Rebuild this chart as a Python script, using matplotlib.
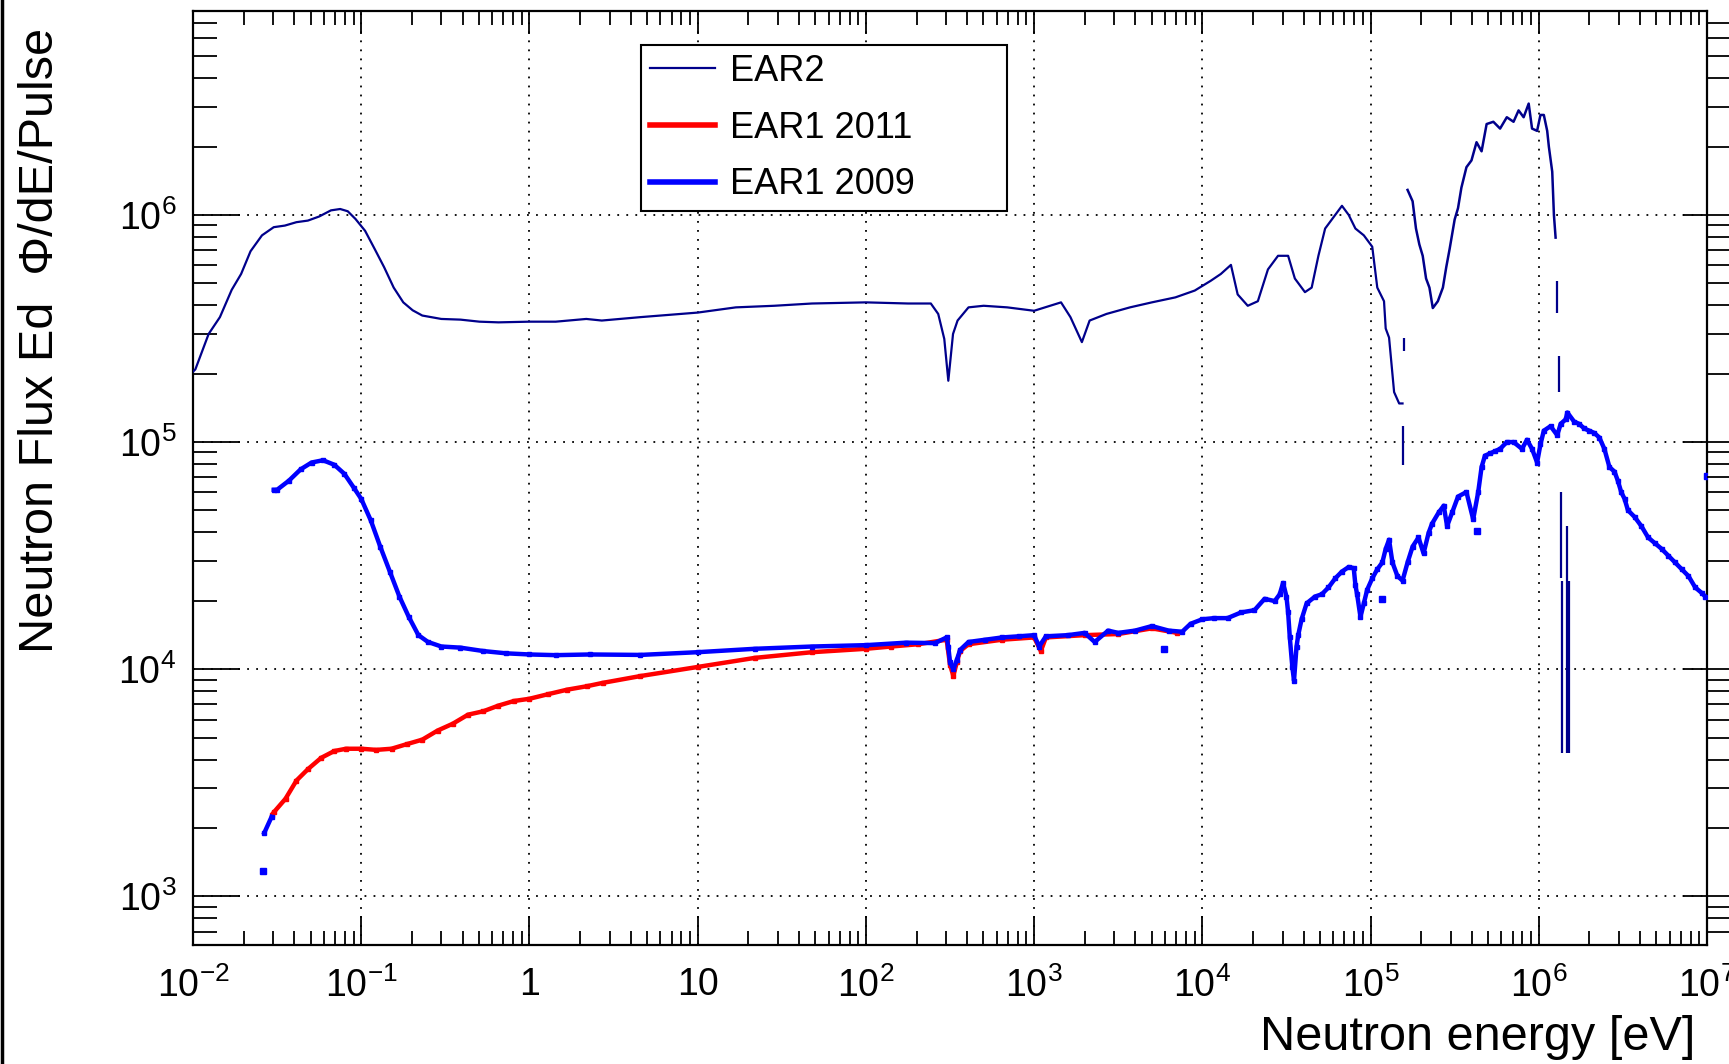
import numpy as np
import matplotlib
matplotlib.use('Agg')
import matplotlib.pyplot as plt
from matplotlib.ticker import LogLocator, FuncFormatter, NullFormatter
from matplotlib.lines import Line2D

plt.rcParams['font.family'] = ['Liberation Sans', 'DejaVu Sans']
plt.rcParams['mathtext.fontset'] = 'custom'
plt.rcParams['mathtext.rm'] = 'Liberation Sans'
plt.rcParams['mathtext.it'] = 'Liberation Sans:italic'
plt.rcParams['mathtext.default'] = 'regular'

# ---------------- data (log10 of energy [eV] and log10 of flux) ----------
ear2_log_e = [-2.0, -1.986, -1.907, -1.84, -1.77, -1.714, -1.658, -1.59, -1.52, -1.454, -1.385,
              -1.317, -1.25, -1.18, -1.125, -1.08, -1.034, -0.977, -0.92, -0.864, -0.807, -0.75,
              -0.694, -0.637, -0.524, -0.41, -0.297, -0.184, 0.0, 0.156, 0.338, 0.43, 0.66, 1.0,
              1.227, 1.455, 1.68, 2.0, 2.25, 2.386, 2.43, 2.466, 2.49, 2.518, 2.545, 2.61, 2.70,
              2.84, 3.0, 3.16, 3.216, 3.284, 3.33, 3.43, 3.57, 3.70, 3.84, 3.955, 4.05, 4.11, 4.17,
              4.21, 4.27, 4.33, 4.39, 4.45, 4.51, 4.55, 4.61, 4.65, 4.69, 4.73, 4.79, 4.83, 4.87,
              4.91, 4.96, 5.01, 5.04, 5.08, 5.09, 5.11, 5.14, 5.17, 5.19]
ear2_log_f = [5.31, 5.32, 5.476, 5.55, 5.67, 5.74, 5.84, 5.91, 5.946, 5.953, 5.968,
              5.975, 5.993, 6.02, 6.026, 6.016, 5.982, 5.93, 5.85, 5.77, 5.68, 5.615,
              5.58, 5.557, 5.542, 5.539, 5.53, 5.527, 5.53, 5.53, 5.542, 5.535, 5.55, 5.57,
              5.593, 5.60, 5.61, 5.615, 5.61, 5.61, 5.564, 5.454, 5.27, 5.476, 5.535, 5.593, 5.60,
              5.593, 5.578, 5.615, 5.55, 5.44, 5.535, 5.564, 5.593, 5.615, 5.637, 5.667, 5.71, 5.74,
              5.78, 5.65, 5.60, 5.62, 5.76, 5.82, 5.82, 5.72, 5.66, 5.68, 5.82, 5.94, 6.0, 6.04,
              6.0, 5.94, 5.91, 5.86, 5.68, 5.62, 5.50, 5.46, 5.22, 5.17, 5.17]

ear2_hi_log_e = [5.22, 5.25, 5.27, 5.29, 5.31, 5.33, 5.35, 5.37, 5.40, 5.43, 5.45, 5.47, 5.50,
                 5.52, 5.54, 5.57, 5.60, 5.63, 5.66, 5.69, 5.73, 5.77, 5.81, 5.85, 5.88, 5.91,
                 5.94, 5.96, 5.99, 6.01, 6.03, 6.05, 6.06, 6.08, 6.09, 6.10]
ear2_hi_log_f = [6.11, 6.06, 5.94, 5.87, 5.82, 5.72, 5.68, 5.59, 5.62, 5.68, 5.77, 5.85, 5.98,
                 6.03, 6.12, 6.21, 6.24, 6.32, 6.28, 6.40, 6.41, 6.38, 6.43, 6.41, 6.46, 6.43,
                 6.49, 6.38, 6.37, 6.44, 6.44, 6.37, 6.30, 6.19, 6.0, 5.90]

# isolated EAR2 bins with error bars: log E, log flux, log low edge, log high edge
ear2_iso_log_e = [5.19, 5.20, 6.11, 6.12, 6.13, 6.14, 6.17, 6.18]
ear2_iso_log_f = [4.98, 5.43, 5.64, 5.30, 4.63, 4.16, 4.46, 4.16]
ear2_iso_log_lo = [4.90, 5.40, 5.57, 5.22, 4.40, 3.63, 3.63, 3.63]
ear2_iso_log_hi = [5.07, 5.46, 5.71, 5.38, 4.78, 4.39, 4.63, 4.39]

ear1_2009_low_log_e = [-1.576, -1.533]
ear1_2009_low_log_f = [3.28, 3.35]
ear1_2009_lone_log_e = [-1.585, 3.77, 5.07, 5.63, 7.0]
ear1_2009_lone_log_f = [3.11, 4.09, 4.31, 4.61, 4.85]

ear1_2009_log_e = [-1.52, -1.50, -1.43, -1.36, -1.295, -1.227, -1.16, -1.10, -1.045, -1.0, -0.943,
                   -0.887, -0.83, -0.773, -0.717, -0.66, -0.603, -0.524, -0.41, -0.274, -0.138,
                   0.0, 0.156, 0.36, 0.66, 1.0, 1.34, 1.68, 2.0, 2.24, 2.41, 2.48, 2.49, 2.50, 2.52,
                   2.54, 2.56, 2.61, 2.71, 2.81, 2.91, 3.0, 3.03, 3.07, 3.20, 3.30, 3.36, 3.44, 3.50,
                   3.60, 3.70, 3.80, 3.88, 3.93, 4.0, 4.07, 4.15, 4.23, 4.31, 4.37, 4.43, 4.46, 4.48,
                   4.50, 4.51, 4.52, 4.535, 4.545, 4.56, 4.57, 4.59, 4.62, 4.67, 4.71, 4.75, 4.79,
                   4.83, 4.87, 4.90, 4.91, 4.92, 4.94, 4.96, 4.98, 5.01, 5.04, 5.07, 5.09, 5.11,
                   5.13, 5.16, 5.19, 5.22, 5.25, 5.285, 5.315, 5.345, 5.365, 5.405, 5.435, 5.455,
                   5.485, 5.52, 5.57, 5.61, 5.64, 5.66, 5.68, 5.71, 5.74, 5.77, 5.81, 5.85, 5.90,
                   5.93, 5.96, 5.99, 6.01, 6.03, 6.07, 6.11, 6.13, 6.16, 6.17, 6.21, 6.24, 6.27,
                   6.30, 6.33, 6.36, 6.39, 6.42, 6.45, 6.47, 6.49, 6.51, 6.53, 6.57, 6.61, 6.65,
                   6.69, 6.73, 6.77, 6.81, 6.85, 6.89, 6.93, 6.97, 6.99]
ear1_2009_log_f = [4.79, 4.79, 4.83, 4.88, 4.91, 4.92, 4.90, 4.86, 4.80, 4.75, 4.655,
                   4.54, 4.43, 4.32, 4.23, 4.15, 4.12, 4.10, 4.095, 4.08, 4.07,
                   4.065, 4.062, 4.065, 4.063, 4.075, 4.09, 4.10, 4.106, 4.117, 4.115, 4.14, 4.10,
                   4.03, 4.0, 4.04, 4.085, 4.12, 4.13, 4.14, 4.145, 4.15, 4.10, 4.145, 4.15, 4.16,
                   4.12, 4.17, 4.16, 4.17, 4.19, 4.17, 4.165, 4.20, 4.22, 4.225, 4.225, 4.25, 4.26,
                   4.31, 4.30, 4.33, 4.38, 4.32, 4.25, 4.14, 4.01, 3.95, 4.10, 4.15, 4.22, 4.29,
                   4.32, 4.33, 4.36, 4.40, 4.43, 4.45, 4.445, 4.37, 4.33, 4.23, 4.29, 4.35, 4.40,
                   4.44, 4.47, 4.53, 4.57, 4.47, 4.41, 4.39, 4.47, 4.54, 4.58, 4.51, 4.60, 4.64,
                   4.69, 4.72, 4.63, 4.69, 4.76, 4.78, 4.66, 4.78, 4.89, 4.94, 4.95, 4.96, 4.97,
                   5.0, 5.0, 4.97, 5.01, 4.97, 4.91, 4.99, 5.05, 5.07, 5.03, 5.08, 5.10, 5.13,
                   5.09, 5.08, 5.06, 5.05, 5.04, 5.02, 4.97, 4.89, 4.87, 4.83, 4.78, 4.75, 4.70,
                   4.67, 4.63, 4.58, 4.555, 4.53, 4.50, 4.47, 4.44, 4.41, 4.36, 4.335, 4.32]

ear1_2011_log_e = [-1.53, -1.52, -1.45, -1.385, -1.317, -1.238, -1.16, -1.09, -1.0, -0.91, -0.82,
                   -0.73, -0.637, -0.546, -0.456, -0.365, -0.274, -0.184, -0.093, 0.0, 0.11, 0.224,
                   0.34, 0.436, 0.66, 1.0, 1.34, 1.68, 2.0, 2.15, 2.31, 2.48, 2.50, 2.52, 2.54, 2.56,
                   2.61, 2.81, 3.0, 3.04, 3.07, 3.30, 3.50, 3.70, 3.85]
ear1_2011_log_f = [3.36, 3.37, 3.43, 3.51, 3.56, 3.61, 3.64, 3.65, 3.65, 3.645, 3.65,
                   3.67, 3.69, 3.73, 3.76, 3.80, 3.815, 3.84, 3.86, 3.87, 3.89, 3.91,
                   3.925, 3.94, 3.97, 4.01, 4.05, 4.075, 4.09, 4.10, 4.11, 4.13, 4.02, 3.97, 4.03,
                   4.08, 4.11, 4.13, 4.14, 4.08, 4.14, 4.15, 4.155, 4.18, 4.16]

legend_labels = ['EAR2', 'EAR1 2011', 'EAR1 2009']
x_label = 'Neutron energy [eV]'
y_label = 'Neutron Flux Ed  \u03a6/dE/Pulse'

NAVY = '#00008b'
BLUE = '#0000ff'
RED = '#ff0000'

def p(v):
    return np.power(10.0, np.asarray(v, dtype=float))

# ---------------- figure ----------------
W, H = 1729, 1064
fig = plt.figure(figsize=(W / 100, H / 100), dpi=100)
ax = fig.add_axes([193 / W, 1 - 945 / H, 1514 / W, 934 / H])
ax.set_xscale('log')
ax.set_yscale('log')
XLIM = (1e-2, 1e7)
YLIM = (611, 7.9e6)
ax.set_xlim(*XLIM)
ax.set_ylim(*YLIM)

# series
ax.plot(p(ear1_2011_log_e), p(ear1_2011_log_f), color=RED, lw=3.2, marker='s', ms=3,
        solid_capstyle='butt', zorder=3)
ax.plot(p(ear1_2009_low_log_e), p(ear1_2009_low_log_f), color=BLUE, lw=3.2, marker='s', ms=3, zorder=4)
ax.plot(p(ear1_2009_log_e), p(ear1_2009_log_f), color=BLUE, lw=3.2, marker='s', ms=3.5, zorder=4)
ax.plot(p(ear1_2009_lone_log_e), p(ear1_2009_lone_log_f), color=BLUE, lw=0, marker='s', ms=4.5, zorder=4)

ax.plot(p(ear2_log_e), p(ear2_log_f), color=NAVY, lw=1.6, zorder=5)
ax.plot(p(ear2_hi_log_e), p(ear2_hi_log_f), color=NAVY, lw=1.8, zorder=5)
iso_e = p(ear2_iso_log_e)
iso_f = p(ear2_iso_log_f)
ax.errorbar(iso_e, iso_f, yerr=[iso_f - p(ear2_iso_log_lo), p(ear2_iso_log_hi) - iso_f],
            fmt='none', ecolor=NAVY, elinewidth=1.6, capsize=0, zorder=5)

# grid
ax.grid(True, which='major', color='black', linestyle=(0, (1, 4)), linewidth=1.3)

# tick formatting
def fmt(v, pos):
    e = int(round(np.log10(v)))
    if e == 0:
        return '1'
    if e == 1:
        return '10'
    return r'$10^{%d}$' % e

for axis in (ax.xaxis, ax.yaxis):
    axis.set_major_locator(LogLocator(base=10, numticks=30))
    axis.set_minor_locator(LogLocator(base=10, subs=np.arange(2, 10), numticks=30))
    axis.set_minor_formatter(NullFormatter())
ax.xaxis.set_major_formatter(FuncFormatter(fmt))
ax.yaxis.set_major_formatter(FuncFormatter(fmt))

ax.tick_params(axis='x', which='major', direction='in', length=21, width=1.3, labelsize=27, pad=16,
               top=False)
ax.tick_params(axis='x', which='minor', direction='in', length=10, width=1.3, top=False)
ax.tick_params(axis='y', which='major', direction='in', length=34, width=1.3, labelsize=27, pad=12,
               right=False)
ax.tick_params(axis='y', which='minor', direction='in', length=17, width=1.3, right=False)
for s in ax.spines.values():
    s.set_linewidth(1.6)

# top axis ticks
axT = ax.twiny()
axT.set_xscale('log')
axT.set_xlim(*XLIM)
axT.xaxis.set_major_locator(LogLocator(base=10, numticks=30))
axT.xaxis.set_minor_locator(LogLocator(base=10, subs=np.arange(2, 10), numticks=30))
axT.xaxis.set_major_formatter(NullFormatter())
axT.xaxis.set_minor_formatter(NullFormatter())
axT.tick_params(axis='x', which='major', direction='in', length=16.5, width=1.3, top=True,
                bottom=False, labeltop=False, labelbottom=False)
axT.tick_params(axis='x', which='minor', direction='in', length=10, width=1.3, top=True,
                bottom=False)

# right axis ticks
axR = ax.twinx()
axR.set_yscale('log')
axR.set_ylim(*YLIM)
axR.yaxis.set_major_locator(LogLocator(base=10, numticks=30))
axR.yaxis.set_minor_locator(LogLocator(base=10, subs=np.arange(2, 10), numticks=30))
axR.yaxis.set_major_formatter(NullFormatter())
axR.yaxis.set_minor_formatter(NullFormatter())
axR.tick_params(axis='y', which='major', direction='inout', length=34, width=1.3, right=True,
                left=False, labelright=False, labelleft=False)
axR.tick_params(axis='y', which='minor', direction='out', length=16, width=1.3, right=True,
                left=False)
for a in (axT, axR):
    for s in a.spines.values():
        s.set_visible(False)

# legend
handles = [Line2D([], [], color=NAVY, lw=1.6),
           Line2D([], [], color=RED, lw=4),
           Line2D([], [], color=BLUE, lw=4)]
leg = axR.legend(handles, legend_labels, loc='upper left',
                 bbox_to_anchor=(0.296, 0.787, 0.2416, 0.1766), bbox_transform=ax.transAxes,
                 mode='expand', fontsize=26, frameon=True, fancybox=False, shadow=False,
                 framealpha=1, edgecolor='black', borderpad=0.25, labelspacing=0.6,
                 handlelength=1.8, handletextpad=0.4, borderaxespad=0)
leg.get_frame().set_linewidth(1.5)

# axis titles
fig.text(1695 / W, 1 - 1038 / H, x_label, ha='right', va='center', fontsize=35)
fig.text(41 / W, 1 - 28 / H, y_label, ha='center', va='top', rotation=90, fontsize=35)

# canvas left edge line
fig.add_artist(Line2D([0.0012, 0.0012], [0, 1], transform=fig.transFigure, color='black', lw=2.5))

fig.savefig('out.png', dpi=100)
